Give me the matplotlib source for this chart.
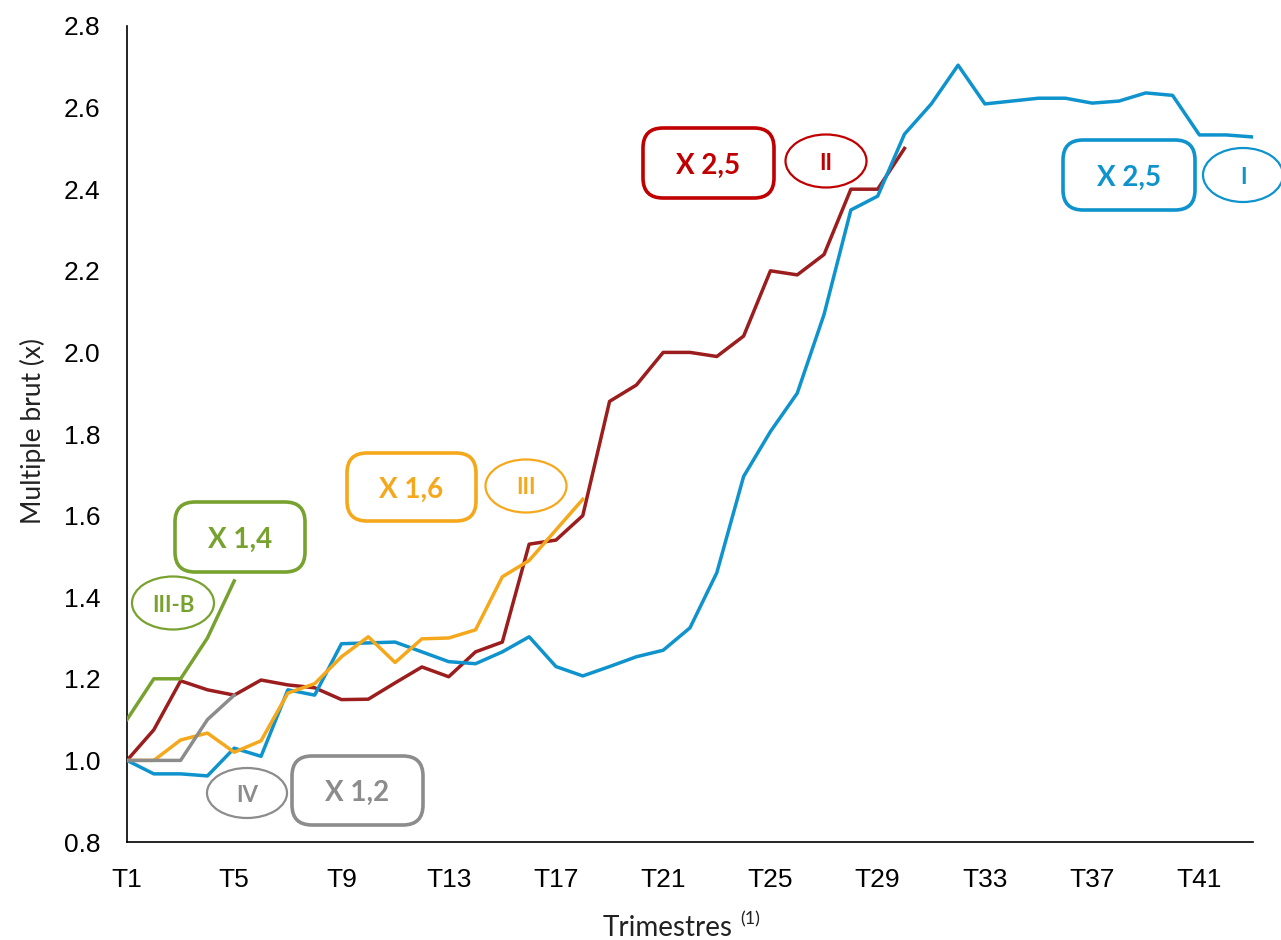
import numpy as np
import matplotlib.pyplot as plt
from matplotlib.patches import FancyBboxPatch, Ellipse
from matplotlib.transforms import IdentityTransform

# multiple brut par trimestre, fonds I, II, III, III-B, IV
fund_i = [1.0, 0.967, 0.967, 0.962, 1.03, 1.01, 1.173, 1.16, 1.286, 1.288,
          1.29, 1.266, 1.242, 1.237, 1.266, 1.303, 1.23, 1.207, 1.23, 1.254,
          1.27, 1.325, 1.46, 1.696, 1.806, 1.90, 2.093, 2.349, 2.383, 2.535,
          2.609, 2.704, 2.609, 2.616, 2.623, 2.623, 2.611, 2.616, 2.636, 2.63,
          2.533, 2.533, 2.528]
fund_ii = [1.0, 1.075, 1.195, 1.173, 1.16, 1.197, 1.185, 1.178, 1.149, 1.15,
           1.19, 1.229, 1.205, 1.266, 1.29, 1.53, 1.54, 1.6, 1.88, 1.92,
           2.0, 2.0, 1.99, 2.04, 2.2, 2.19, 2.24, 2.4, 2.4, 2.5]
fund_iii = [1.0, 1.0, 1.05, 1.067, 1.02, 1.048, 1.165, 1.188, 1.254, 1.303,
            1.24, 1.298, 1.30, 1.32, 1.45, 1.49, 1.565, 1.64]
fund_iiib = [1.1, 1.2, 1.2, 1.3, 1.44]
fund_iv = [1.0, 1.0, 1.0, 1.1, 1.16]

tick_quarters = list(range(1, 44, 4))
tick_labels = ["T%d" % q for q in tick_quarters]

BLUE = "#0E93CD"
DARKRED = "#9B1D1D"
RED = "#C00000"
ORANGE = "#F5A81C"
GREEN = "#78A22F"
GREY = "#8C8C8C"

W, H = 1281, 940
fig = plt.figure(figsize=(W / 100, H / 100), dpi=100)
ax = fig.add_axes([127 / W, 1 - 842 / H, (1253 - 127) / W, (842 - 26) / H])

def q(vals):
    return np.arange(1, len(vals) + 1)

lw = 2.5
ax.plot(q(fund_ii), fund_ii, color=DARKRED, lw=lw, zorder=2)
ax.plot(q(fund_i), fund_i, color=BLUE, lw=lw, zorder=3)
ax.plot(q(fund_iii), fund_iii, color=ORANGE, lw=lw, zorder=4)
ax.plot(q(fund_iv), fund_iv, color=GREY, lw=lw, zorder=5)
ax.plot(q(fund_iiib), fund_iiib, color=GREEN, lw=lw, zorder=6)

ax.set_xlim(1, 43)
ax.set_ylim(0.8, 2.8)
ax.set_yticks(np.arange(0.8, 2.81, 0.2))
ax.set_yticklabels(["%.1f" % v for v in np.arange(0.8, 2.81, 0.2)])
ax.set_xticks(tick_quarters)
ax.set_xticklabels(tick_labels)
for lab in ax.get_xticklabels() + ax.get_yticklabels():
    lab.set_fontfamily("Liberation Sans")
    lab.set_fontsize(19)
ax.tick_params(axis="y", length=0, pad=19)
ax.tick_params(axis="x", length=0, pad=19)
for s in ["top", "right"]:
    ax.spines[s].set_visible(False)
for s in ["left", "bottom"]:
    ax.spines[s].set_linewidth(1.2)

ident = IdentityTransform()
fig.text(33, H - 431, "Multiple brut (x)", transform=ident, rotation=90,
         ha="center", va="center", fontsize=19, family="Lato", color="#222222")
fig.text(603, H - 936, "Trimestres", transform=ident, ha="left",
         va="baseline", fontsize=20, family="Lato", color="#222222")
fig.text(740, H - 924, "(1)", transform=ident, ha="left", va="baseline",
         fontsize=13, family="Lato", color="#222222")

def box(x0, y0, x1, y1, text, color):
    p = FancyBboxPatch((x0, H - y1), x1 - x0, y1 - y0,
                       boxstyle="round,pad=0,rounding_size=20",
                       transform=ident, fc="none", ec=color, lw=2.6)
    fig.add_artist(p)
    fig.text((x0 + x1) / 2, H - ((y0 + y1) / 2 + 10.5), text, transform=ident,
             ha="center", va="baseline", fontsize=20, family="Lato",
             weight="bold", color=color)

def oval(cx, cy, w, h, text, color):
    e = Ellipse((cx, H - cy), w, h, transform=ident, fc="none", ec=color, lw=1.6)
    fig.add_artist(e)
    fig.text(cx, H - (cy + 8.5), text, transform=ident, ha="center",
             va="baseline", fontsize=16, family="Lato", weight="bold",
             color=color)

box(175, 502, 305, 572, "X 1,4", GREEN)
oval(173, 603, 82, 53, "III-B", GREEN)
box(292, 756, 423, 825, "X 1,2", GREY)
oval(247, 793, 80, 50, "IV", GREY)
box(347, 453, 476, 521, "X 1,6", ORANGE)
oval(526, 486, 81, 53, "III", ORANGE)
box(643, 128, 774, 198, "X 2,5", RED)
oval(826, 161, 81, 53, "II", RED)
box(1063, 140, 1195, 210, "X 2,5", BLUE)
oval(1243, 175, 80, 54, "I", BLUE)

plt.savefig("out.png", dpi=100)
